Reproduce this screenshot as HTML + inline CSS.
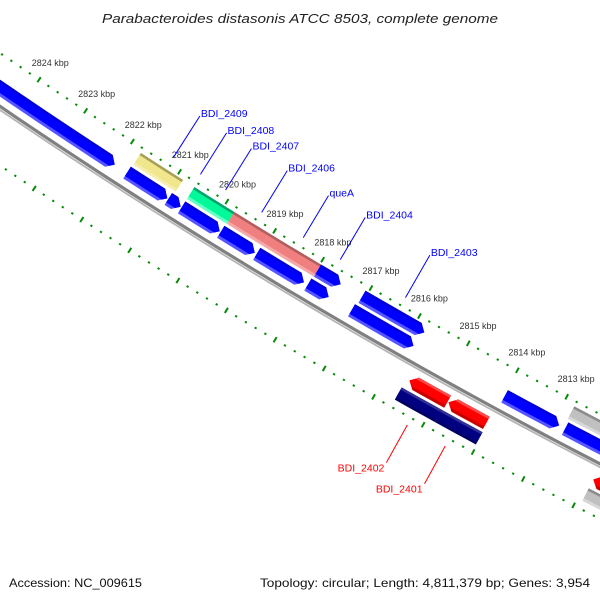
<!DOCTYPE html>
<html><head><meta charset="utf-8"><title>Genome map</title>
<style>html,body{margin:0;padding:0;background:#fff}svg{display:block}</style></head>
<body>
<svg id="map" width="600" height="600" viewBox="0 0 600 600" xmlns="http://www.w3.org/2000/svg">
<rect x="0" y="0" width="600" height="600" fill="#fff"/>
<g id="rings"></g>
<g id="feats"></g>
<g id="labels"></g>
<text x="300" y="23" text-anchor="middle" font-family="Liberation Sans, sans-serif" font-style="italic" font-size="13" fill="#222" textLength="396" lengthAdjust="spacingAndGlyphs">Parabacteroides distasonis ATCC 8503, complete genome</text>
<text x="9" y="587" font-family="Liberation Sans, sans-serif" font-size="12" fill="#111" textLength="133" lengthAdjust="spacingAndGlyphs">Accession: NC_009615</text>
<text x="590" y="587" text-anchor="end" font-family="Liberation Sans, sans-serif" font-size="12" fill="#111" textLength="330" lengthAdjust="spacingAndGlyphs">Topology: circular; Length: 4,811,379 bp; Genes: 3,954</text>
</svg>
<script>
// ---- data ----
var tickLabels = [2813,2814,2815,2816,2817,2818,2819,2820,2821,2822,2823,2824];
var featStart = [2821.76,2820.63,2819.79,2819.06,2817.98,2817.06,2812.80, 2826.6,2821.78,2820.91,2820.63,2819.81,2819.06,2818.00,2817.10,2813.98,2812.76, 2815.59,2814.80,2811.90, 2815.65,2814.84,2811.90];
var featEnd   = [2820.87,2819.79,2819.06,2817.98,2817.50,2815.78,2811.00, 2822.04,2820.93,2820.65,2819.83,2819.10,2818.08,2817.57,2815.83,2812.88,2811.00, 2814.82,2814.04,2810.50, 2814.84,2814.02,2810.00];
var featRow   = [0,0,0,0,0,0,0, 1,1,1,1,1,1,1,1,1,1, 2,2,2, 3,3,3];
var featDir   = [0,0,0,0,1,1,0, 1,1,1,1,1,1,1,1,1,1, -1,-1,-1, 0,0,0];
var featColor = ['khaki','green','salmon','salmon','blue','blue','grey', 'blue','blue','blue','blue','blue','blue','blue','blue','blue','blue', 'red','red','red', 'navy','navy','grey'];
var labelNames = ['BDI_2409','BDI_2408','BDI_2407','BDI_2406','queA','BDI_2404','BDI_2403','BDI_2402','BDI_2401'];
var labelPos   = [2821.23,2820.66,2820.13,2819.37,2818.50,2817.73,2816.38,2815.24,2814.48];
var labelStrand= [1,1,1,1,1,1,1,-1,-1];

// ---- geometry ----
var CX=3236, CY=-4643, A0=120.72, K=0.5625, REF=2818;
function P(kbp,r){var a=(A0+(kbp-REF)*K)*Math.PI/180;return [CX+r*Math.cos(a),CY+r*Math.sin(a)];}
var rowR=[5715,5732,5764,5781], H=7, TIPK=0.125;
var pal={blue:['#0000ff','#0000d8','#5555ff'],khaki:['#f0e68c','#a89f58','#f6eeb0'],green:['#00fa9a','#00a36a','#66ffc4'],
salmon:['#f08080','#b05e5e','#f6a8a8'],red:['#ff0000','#ff4a4a','#c80000'],navy:['#000080','#30309a','#000066'],grey:['#c0c0c0','#8c8c8c','#d8d8d8']};
var NS='http://www.w3.org/2000/svg';
function el(tag,parent){var e=document.createElementNS(NS,tag);parent.appendChild(e);return e;}
function f2(p){return p[0].toFixed(2)+','+p[1].toFixed(2);}

// rings
var rings=document.getElementById('rings');
function arcPath(r,k0,k1){var d='';for(var k=k0;k>=k1-1e-9;k-=0.25){d+=(d?'L':'M')+f2(P(k,r));}return d;}
var bb1=el('path',rings);


bb1.setAttribute('d',arcPath(5747,2827,2809));bb1.setAttribute('stroke','#808080');bb1.setAttribute('stroke-width','3.2');bb1.setAttribute('fill','none');
var bb2=el('path',rings);


bb2.setAttribute('d',arcPath(5750,2827,2809));bb2.setAttribute('stroke','#b4b4b4');bb2.setAttribute('stroke-width','1.8');bb2.setAttribute('fill','none');
[5703,5796].forEach(function(R,ri){
  for(var i=0;i<=90;i++){
    var k=2809+i*0.2; var major=Math.abs(k-Math.round(k))<1e-6;
    var len=major?3:1;
    var a=P(k,R-len),b=P(k,R+len);
    var t=el('line',rings);
    
    
    t.setAttribute('x1',a[0]);t.setAttribute('y1',a[1]);t.setAttribute('x2',b[0]);t.setAttribute('y2',b[1]);
    t.setAttribute('stroke','#078a07');t.setAttribute('stroke-width',major?'2':'2.2');
  }
});
tickLabels.forEach(function(k){
  var p=P(k,5683);
  var t=el('text',rings);
  
  
  t.setAttribute('x',p[0]);t.setAttribute('y',p[1]+3);t.setAttribute('text-anchor','middle');
  t.setAttribute('font-family','Liberation Sans, sans-serif');t.setAttribute('font-size','9');t.setAttribute('fill','#333');
  t.textContent=k+' kbp';
});

// features
var feats=document.getElementById('feats');
function shape(s,e,r,dir,r1,r2){
  // s: left(higher kbp), e: right(lower kbp)
  function tipAt(rr){var f=Math.abs(rr-r)/H;return f;}
  var pts=[],k;
  var sL=s,eR=e;
  function endR(rr){return dir===1? e+TIPK*tipAt(rr) : e;}
  function endL(rr){return dir===-1? s-TIPK*tipAt(rr) : s;}
  var n=Math.max(2,Math.ceil((s-e)/0.25));
  for(var i=0;i<=n;i++){var kk=endL(r1)+(endR(r1)-endL(r1))*i/n;pts.push(P(kk,r1));}
  if(dir===1&&r>r1&&r<r2)pts.push(P(e,r));
  for(i=n;i>=0;i--){var kk2=endL(r2)+(endR(r2)-endL(r2))*i/n;pts.push(P(kk2,r2));}
  if(dir===-1&&r>r1&&r<r2)pts.push(P(s,r));
  return pts.map(f2).join(' ');
}
for(var i=0;i<featStart.length;i++){
  var r=rowR[featRow[i]],c=pal[featColor[i]],g=el('g',feats);
  
  
  var s=featStart[i],e=featEnd[i],d=featDir[i];
  var p1=el('polygon',g);p1.setAttribute('points',shape(s,e,r,d,r-H,r+H));p1.setAttribute('fill',c[2]);
  var p2=el('polygon',g);p2.setAttribute('points',shape(s,e,r,d,r-H,r+H-3));p2.setAttribute('fill',c[0]);
  var p3=el('polygon',g);p3.setAttribute('points',shape(s,e,r,d,r-H,r-H+2.5));p3.setAttribute('fill',c[1]);
}

// labels
var labels=document.getElementById('labels');
labelNames.forEach(function(nm,i){
  var fw=labelStrand[i]===1;
  var a=fw?P(labelPos[i],5694):P(labelPos[i],5804);
  var b=fw?P(labelPos[i],5645):P(labelPos[i],5847);
  var col=fw?'#0000ff':'#ff0000';
  var ln=el('line',labels);
  
  
  ln.setAttribute('x1',a[0]);ln.setAttribute('y1',a[1]);ln.setAttribute('x2',b[0]);ln.setAttribute('y2',b[1]);
  ln.setAttribute('stroke',col);ln.setAttribute('stroke-width','1');
  var t=el('text',labels);
  
  
  t.setAttribute('font-family','Liberation Sans, sans-serif');t.setAttribute('font-size','10.5');t.setAttribute('fill',col);
  if(fw){t.setAttribute('x',b[0]+1);t.setAttribute('y',b[1]+1);}
  else{t.setAttribute('x',b[0]-2);t.setAttribute('y',b[1]+9);t.setAttribute('text-anchor','end');}
  t.textContent=nm;
});
</script>
</body></html>
